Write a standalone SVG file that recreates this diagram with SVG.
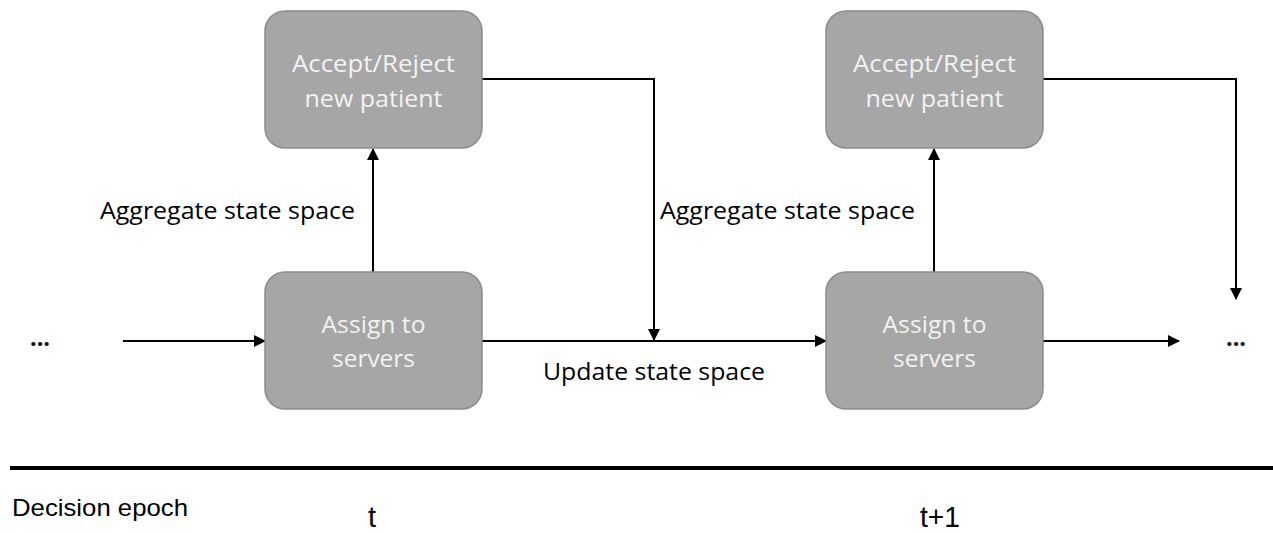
<svg xmlns="http://www.w3.org/2000/svg" width="1273" height="533" viewBox="0 0 1273 533">
<style>
.box{fill:#a6a6a6;stroke:#8c8c8c;stroke-width:1.5}
.bt{font-family:"Open Sans","Liberation Sans",sans-serif;font-size:24px;fill:#f2f2f2;text-anchor:middle}
.lbl{font-family:"Open Sans","Liberation Sans",sans-serif;font-size:23.5px;fill:#000}
.dots{font-family:"Open Sans","Liberation Sans",sans-serif;font-size:24px;font-weight:bold;fill:#000}
.ln{stroke:#000;stroke-width:2;fill:none}
</style>
<defs>
<marker id="ah" markerWidth="12" markerHeight="12" refX="11" refY="6" orient="auto" markerUnits="userSpaceOnUse">
<path d="M0,0 L12,6 L0,12 Z" fill="#000"/>
</marker>
</defs>
<rect width="1273" height="533" fill="#fff"/>
<g id="connectors">
<line class="ln" x1="123" y1="341" x2="265" y2="341" marker-end="url(#ah)"/>
<line class="ln" x1="373" y1="272" x2="373" y2="149" marker-end="url(#ah)"/>
<polyline class="ln" points="482,79 654,79 654,340" marker-end="url(#ah)"/>
<line class="ln" x1="482" y1="341" x2="826" y2="341" marker-end="url(#ah)"/>
<line class="ln" x1="934" y1="272" x2="934" y2="149" marker-end="url(#ah)"/>
<polyline class="ln" points="1043,79 1236,79 1236,299" marker-end="url(#ah)"/>
<line class="ln" x1="1043" y1="341" x2="1179" y2="341" marker-end="url(#ah)"/>
</g>
<g id="accept1"><rect class="box" x="265" y="11" width="217" height="137" rx="20"/>
<text class="bt" x="373.5" y="72" textLength="163" lengthAdjust="spacingAndGlyphs">Accept/Reject</text><text class="bt" x="373.5" y="107" textLength="138" lengthAdjust="spacingAndGlyphs">new patient</text></g>
<g id="assign1"><rect class="box" x="265" y="272" width="217" height="137" rx="20"/>
<text class="bt" x="373.5" y="333" textLength="104" lengthAdjust="spacingAndGlyphs">Assign to</text><text class="bt" x="373.5" y="367" textLength="83" lengthAdjust="spacingAndGlyphs">servers</text></g>
<g id="accept2"><rect class="box" x="826" y="11" width="217" height="137" rx="20"/>
<text class="bt" x="934.5" y="72" textLength="163" lengthAdjust="spacingAndGlyphs">Accept/Reject</text><text class="bt" x="934.5" y="107" textLength="138" lengthAdjust="spacingAndGlyphs">new patient</text></g>
<g id="assign2"><rect class="box" x="826" y="272" width="217" height="137" rx="20"/>
<text class="bt" x="934.5" y="333" textLength="104" lengthAdjust="spacingAndGlyphs">Assign to</text><text class="bt" x="934.5" y="367" textLength="83" lengthAdjust="spacingAndGlyphs">servers</text></g>
<g id="labels">
<text class="lbl" x="100" y="219" textLength="255" lengthAdjust="spacingAndGlyphs">Aggregate state space</text>
<text class="lbl" x="660" y="219" textLength="255" lengthAdjust="spacingAndGlyphs">Aggregate state space</text>
<text class="lbl" x="543" y="380" textLength="222" lengthAdjust="spacingAndGlyphs">Update state space</text>
<text class="dots" x="30" y="346" textLength="20" lengthAdjust="spacingAndGlyphs">...</text>
<text class="dots" x="1226" y="346" textLength="20" lengthAdjust="spacingAndGlyphs">...</text>
</g>
<g id="timeline">
<line x1="10" y1="468" x2="1273" y2="468" stroke="#000" stroke-width="4"/>
<text x="12" y="516" font-family="'Liberation Sans',sans-serif" font-size="24" textLength="176" lengthAdjust="spacingAndGlyphs">Decision epoch</text>
<text x="368" y="527" font-family="'Liberation Sans',sans-serif" font-size="29">t</text>
<text x="920" y="527" font-family="'Liberation Sans',sans-serif" font-size="29" textLength="40" lengthAdjust="spacingAndGlyphs">t+1</text>
</g>
</svg>
